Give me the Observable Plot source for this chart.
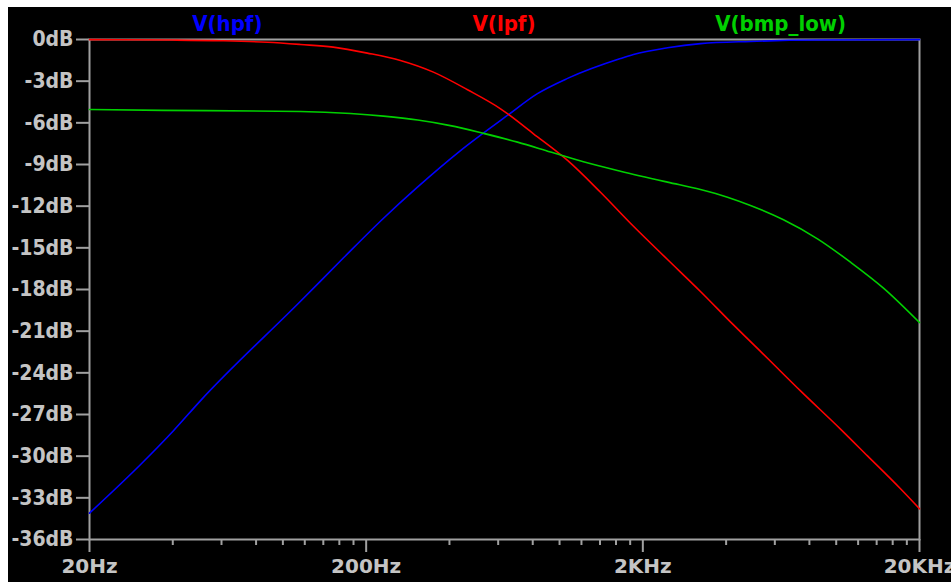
<!DOCTYPE html>
<html>
<head>
<meta charset="utf-8">
<script src="https://cdn.jsdelivr.net/npm/d3@7"></script>
<script src="https://cdn.jsdelivr.net/npm/@observablehq/plot@0.6"></script>
<style>
  html, body { margin: 0; padding: 0; background: #ffffff; }
  #wrap { position: absolute; left: 8px; top: 7px; width: 943px; height: 575px; background: #000000; overflow: hidden; }
  #legend { position: absolute; left: 81px; top: 6px; width: 830px; display: flex; z-index: 2;
            font-family: "DejaVu Sans Condensed", "Liberation Sans Narrow", "DejaVu Sans", sans-serif;
            font-stretch: condensed; font-weight: bold; font-size: 22px; line-height: 22px; }
  #legend span { flex: 1; text-align: center; }
  #chart svg { display: block; }
</style>
</head>
<body>
<div id="wrap">
  <div id="legend"></div>
  <div id="chart"></div>
</div>
<script>
// ---- data (frequency in Hz, level in dB) ----
const seriesNames = ["V(hpf)", "V(lpf)", "V(bmp_low)"];
const seriesColors = ["#0000ff", "#ff0000", "#00d000"];

const freqHpf = [20, 30.6, 40.3, 50.4, 115.8, 166, 231.6, 305.8, 438.6, 648, 832, 1069, 1660, 1850, 2456, 3230, 4900, 8550, 20000];
const dbHpf   = [-34.1, -30.6, -28.15, -26.0, -18.85, -15.7, -12.85, -10.65, -8.0, -5.47, -3.9, -2.8, -1.37, -1.08, -0.6, -0.3, -0.14, -0.04, -0.01];

const freqLpf = [20, 40, 60, 88, 115.8, 152, 202, 266, 350, 465, 612, 805, 1069, 1406, 1850, 2456, 3231, 4254, 5644, 7430, 10362, 12972, 17077, 20000];
const dbLpf   = [-0.01, -0.04, -0.09, -0.2, -0.36, -0.55, -0.98, -1.51, -2.35, -3.62, -4.99, -6.79, -8.71, -11.0, -13.45, -15.84, -18.14, -20.55, -22.95, -25.3, -28.05, -29.98, -32.35, -33.79];

const freqBmp = [20, 37, 115.8, 175.6, 231, 307, 403, 531, 705, 928, 1220, 1660, 2456, 3231, 4046, 4900, 6448, 8558, 11260, 14820, 20000];
const dbBmp   = [-5.04, -5.1, -5.18, -5.33, -5.52, -5.8, -6.2, -6.76, -7.39, -8.1, -8.8, -9.48, -10.27, -10.8, -11.35, -11.95, -12.98, -14.35, -16.03, -17.9, -20.38];

const yTicks = [0, -3, -6, -9, -12, -15, -18, -21, -24, -27, -30, -33, -36];
const xMajorTicks = [20, 200, 2000, 20000];
const xMajorLabels = ["20Hz", "200Hz", "2KHz", "20KHz"];
const xMinorTicks = [40, 60, 80, 100, 120, 140, 160, 180,
                     400, 600, 800, 1000, 1200, 1400, 1600, 1800,
                     4000, 6000, 8000, 10000, 12000, 14000, 16000, 18000];

// ---- build tables ----
const toRows = (fs, vs) => fs.map((f, i) => ({f, v: vs[i]}));
const series = [toRows(freqHpf, dbHpf), toRows(freqLpf, dbLpf), toRows(freqBmp, dbBmp)];

// legend
const legend = document.getElementById("legend");
seriesNames.forEach((n, i) => {
  const s = document.createElement("span");
  s.textContent = n;
  s.style.color = seriesColors[i];
  legend.appendChild(s);
});

const axisGray = "#a0a0a0";
const textGray = "#c4c4c4";
const yFont = "'DejaVu Sans Condensed', 'Liberation Sans Narrow', 'DejaVu Sans', sans-serif";
const xFont = "'DejaVu Sans', sans-serif";

const chart = Plot.plot({
  width: 943,
  height: 575,
  marginTop: 32,
  marginBottom: 43,
  marginLeft: 81,
  marginRight: 32,
  style: {background: "transparent", color: textGray, overflow: "visible"},
  x: {type: "log", domain: [20, 20000]},
  y: {domain: [-36, 0]},
  marks: [
    Plot.frame({stroke: axisGray, strokeWidth: 2}),
    Plot.axisY({
      ticks: yTicks, tickSize: 13, tickPadding: 3, label: null,
      tickFormat: d => `${d}dB`,
      stroke: axisGray, strokeWidth: 2, fill: textGray,
      fontFamily: yFont, fontWeight: "bold", fontSize: 21
    }),
    Plot.axisX({
      ticks: xMinorTicks, tickSize: 6, tickFormat: () => "", label: null,
      stroke: axisGray, strokeWidth: 2
    }),
    Plot.axisX({
      ticks: xMajorTicks, tickSize: 13, tickPadding: 6, label: null,
      tickFormat: d => xMajorLabels[xMajorTicks.indexOf(d)],
      stroke: axisGray, strokeWidth: 2, fill: textGray,
      fontFamily: xFont, fontWeight: "bold", fontSize: 20
    }),
    ...series.map((rows, i) => Plot.line(rows, {
      x: "f", y: "v", stroke: seriesColors[i], strokeWidth: 1.6, curve: "monotone-x"
    }))
  ]
});
document.getElementById("chart").appendChild(chart);
</script>
</body>
</html>
